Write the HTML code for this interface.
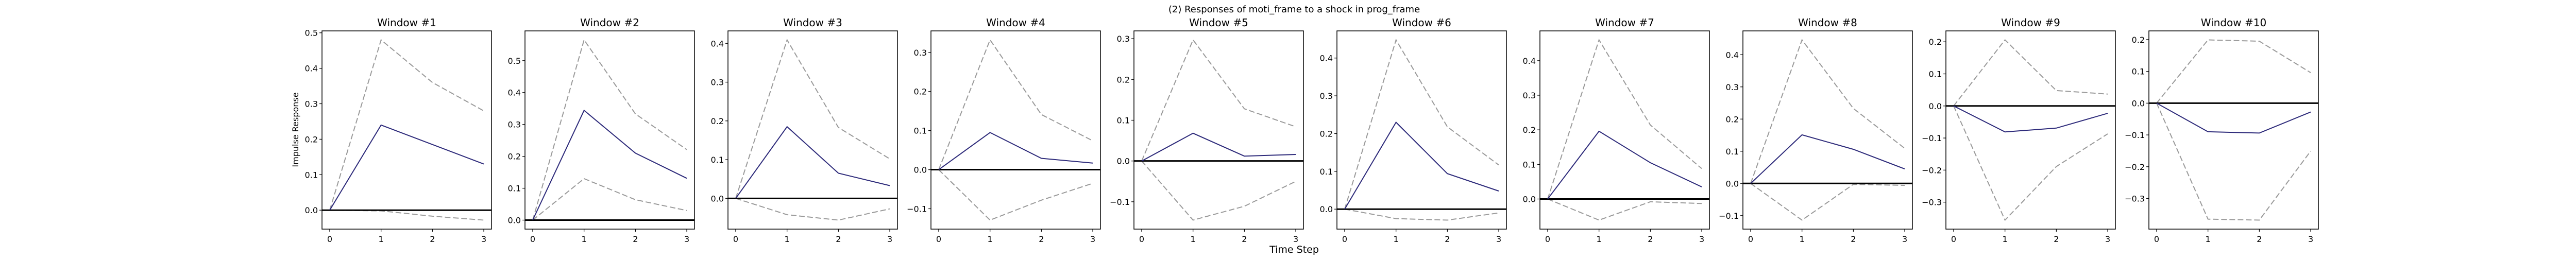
<!DOCTYPE html>
<html><head><meta charset="utf-8"><style>
html,body{margin:0;padding:0;background:#fff;}
svg text{font-family:"DejaVu Sans","Liberation Sans",sans-serif;fill:#000;}
</style></head><body>
<svg id="fig" width="5000" height="500" viewBox="0 0 5000 500" xmlns="http://www.w3.org/2000/svg">
<rect width="5000" height="500" fill="#fff"/>
<text x="2512" y="24" font-size="18" text-anchor="middle">(2) Responses of moti_frame to a shock in prog_frame</text>
<text x="2512" y="491" font-size="19" text-anchor="middle">Time Step</text>
<text transform="translate(579,252) rotate(-90)" font-size="16" text-anchor="middle">Impulse Response</text>
</svg>
<script>
const steps = [0, 1, 2, 3];
const xTickLabels = ["0", "1", "2", "3"];
const windowTitles = ["Window #1","Window #2","Window #3","Window #4","Window #5","Window #6","Window #7","Window #8","Window #9","Window #10"];
const meanSeries = [
  [0, 0.240, 0.185, 0.130],
  [0, 0.344, 0.210, 0.131],
  [0, 0.185, 0.065, 0.033],
  [0, 0.095, 0.029, 0.017],
  [0, 0.068, 0.012, 0.016],
  [0, 0.230, 0.094, 0.048],
  [0, 0.196, 0.105, 0.035],
  [0, 0.151, 0.106, 0.045],
  [0, -0.081, -0.069, -0.023],
  [0, -0.090, -0.094, -0.028]
];
const upperSeries = [
  [0, 0.480, 0.360, 0.280],
  [0, 0.565, 0.333, 0.221],
  [0, 0.409, 0.183, 0.102],
  [0, 0.332, 0.141, 0.074],
  [0, 0.297, 0.128, 0.084],
  [0, 0.448, 0.218, 0.117],
  [0, 0.460, 0.214, 0.088],
  [0, 0.446, 0.233, 0.109],
  [0, 0.206, 0.048, 0.037],
  [0, 0.199, 0.195, 0.096]
];
const lowerSeries = [
  [0, -0.002, -0.017, -0.028],
  [0, 0.130, 0.064, 0.030],
  [0, -0.042, -0.056, -0.027],
  [0, -0.129, -0.078, -0.035],
  [0, -0.145, -0.111, -0.050],
  [0, -0.025, -0.029, -0.010],
  [0, -0.061, -0.008, -0.013],
  [0, -0.114, -0.003, -0.006],
  [0, -0.356, -0.189, -0.087],
  [0, -0.365, -0.368, -0.151]
];
const yTickLabels = [
  ["0.0","0.1","0.2","0.3","0.4","0.5"],
  ["0.0","0.1","0.2","0.3","0.4","0.5"],
  ["0.0","0.1","0.2","0.3","0.4"],
  ["−0.1","0.0","0.1","0.2","0.3"],
  ["−0.1","0.0","0.1","0.2","0.3"],
  ["0.0","0.1","0.2","0.3","0.4"],
  ["0.0","0.1","0.2","0.3","0.4"],
  ["−0.1","0.0","0.1","0.2","0.3","0.4"],
  ["−0.3","−0.2","−0.1","0.0","0.1","0.2"],
  ["−0.3","−0.2","−0.1","0.0","0.1","0.2"]
];

const NS = "http://www.w3.org/2000/svg";
const svg = document.getElementById("fig");
function mk(tag, attrs, parent) {
  const e = document.createElementNS(NS, tag);
  for (const k in attrs) e.setAttribute(k, attrs[k]);
  (parent || svg).appendChild(e);
  return e;
}
const TOP = 60, BOT = 445, W = 329, GAP = 394, LEFT0 = 625;

for (let p = 0; p < windowTitles.length; p++) {
  const L = LEFT0 + p * GAP, R = L + W;
  const g = mk("g", {});
  
  
  const all = meanSeries[p].concat(upperSeries[p], lowerSeries[p], [0]);
  let mn = Math.min(...all), mx = Math.max(...all);
  const pad = (mx - mn) * 0.05; mn -= pad; mx += pad;
  const xs = v => L + W * (v - (-0.15)) / 3.3;
  const ys = v => BOT - (v - mn) / (mx - mn) * (BOT - TOP);

  const title = mk("text", {x: (L + R) / 2, y: 51, "font-size": 20, "text-anchor": "middle"}, g);
  title.textContent = windowTitles[p];
  
  

  const pts = arr => arr.map((v, i) => xs(steps[i]).toFixed(1) + "," + ys(v).toFixed(1)).join(" ");
  const up = mk("polyline", {points: pts(upperSeries[p]), fill: "none", stroke: "#9a9a9a", "stroke-width": 2, "stroke-dasharray": "11,5"}, g);
  
  
  const lo = mk("polyline", {points: pts(lowerSeries[p]), fill: "none", stroke: "#9a9a9a", "stroke-width": 2, "stroke-dasharray": "11,5"}, g);
  
  
  const zero = mk("line", {x1: L, x2: R, y1: ys(0), y2: ys(0), stroke: "#000", "stroke-width": 3}, g);
  
  
  const mean = mk("polyline", {points: pts(meanSeries[p]), fill: "none", stroke: "#2d2a7a", "stroke-width": 2}, g);
  
  

  const frame = mk("rect", {x: L, y: TOP, width: W, height: BOT - TOP, fill: "none", stroke: "#000", "stroke-width": 1.5}, g);
  
  

  for (let i = 0; i < steps.length; i++) {
    const x = xs(steps[i]);
    mk("line", {x1: x, x2: x, y1: BOT, y2: BOT + 5, stroke: "#000", "stroke-width": 1.2}, g);
    const t = mk("text", {x: x, y: 470, "font-size": 16, "text-anchor": "middle"}, g);
    t.textContent = xTickLabels[i];
    
    
  }
  for (const lab of yTickLabels[p]) {
    const v = parseFloat(lab.replace("−", "-"));
    const y = ys(v);
    mk("line", {x1: L - 5, x2: L, y1: y, y2: y, stroke: "#000", "stroke-width": 1.2}, g);
    const t = mk("text", {x: L - 8, y: y + 6, "font-size": 16, "text-anchor": "end"}, g);
    t.textContent = lab;
    
    
  }
}
</script>
</body></html>
